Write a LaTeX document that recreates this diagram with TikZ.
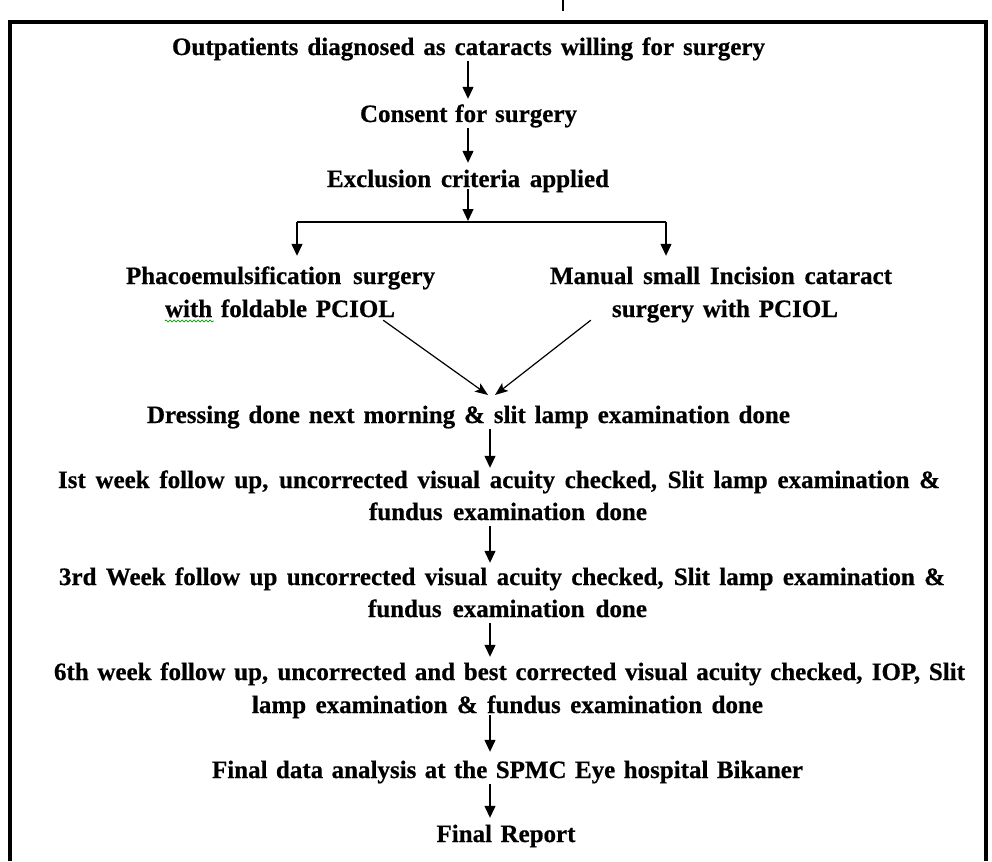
\documentclass[tikz,border=0pt]{standalone}
\usepackage{fontspec}
\setmainfont{Liberation Serif}[BoldFeatures={FakeBold=0.6}]
\usetikzlibrary{arrows.meta,decorations.pathmorphing}
\newcommand\fitw[2]{\makebox[#1pt][s]{#2}}
\begin{document}
\begin{tikzpicture}[x=1pt,y=-1pt,
  txt/.style={font=\fontsize{25}{30}\selectfont\bfseries, inner sep=0pt, text height=17pt, text depth=6pt, anchor=base},
  arr/.style={line width=1.3pt, -{Triangle[length=12pt,width=11pt]}},
  arrd/.style={line width=1.2pt, -{Stealth[length=13pt,width=10pt,inset=3pt]}},
  ln/.style={line width=1.3pt},
  frame/.style={line width=3.5pt}]
\useasboundingbox (0,0) rectangle (992,861);
% frame
\draw[frame] (10,861) -- (10,22) -- (986,22) -- (986,861);
\draw[line width=1.5pt] (563,0) -- (563,11);
% nodes
\node[txt] (l1) at (468.5,55) {\fitw{593}{Outpatients diagnosed as cataracts willing for surgery}};
\node[txt] (l2) at (468.5,122) {\fitw{217}{Consent for surgery}};
\node[txt] (l3) at (468,187) {\fitw{282}{Exclusion criteria applied}};
\node[txt] (p1) at (280.5,284) {\fitw{309}{Phacoemulsification surgery}};
\node[txt] (p2) at (280,317) {\fitw{230}{with foldable PCIOL}};
\node[txt] (m1) at (721,284) {\fitw{342}{Manual small Incision cataract}};
\node[txt] (m2) at (725,317) {\fitw{226}{surgery with PCIOL}};
\node[txt] (d) at (468.5,423) {\fitw{643}{Dressing done next morning \& slit lamp examination done}};
\node[txt] (w1a) at (499,488) {\fitw{882}{Ist week follow up, uncorrected visual acuity checked, Slit lamp examination \&}};
\node[txt] (w1b) at (508,520) {\fitw{278}{fundus examination done}};
\node[txt] (w3a) at (502,585) {\fitw{886}{3rd Week follow up uncorrected visual acuity checked, Slit lamp examination \&}};
\node[txt] (w3b) at (507.5,617) {\fitw{279}{fundus examination done}};
\node[txt] (w6a) at (509.5,680) {\fitw{911}{6th week follow up, uncorrected and best corrected visual acuity checked, IOP, Slit}};
\node[txt] (w6b) at (507.5,713) {\fitw{511}{lamp examination \& fundus examination done}};
\node[txt] (fd) at (507.5,778) {\fitw{591}{Final data analysis at the SPMC Eye hospital Bikaner}};
\node[txt] (fr) at (506,842) {\fitw{139}{Final Report}};
% spell-check squiggle
\draw[green!60!black, line width=0.7pt, decorate, decoration={snake,amplitude=1pt,segment length=4pt}] ([yshift=-4pt]p2.base west) -- ++(49,0);
% connectors
\coordinate (ax) at (468,0);
\coordinate (bx) at (490,0);
\coordinate (br) at (468,221);
\coordinate (bl) at (297,222);
\coordinate (brr) at (666,222);
\coordinate (tl) at (488,395);
\coordinate (tr) at (495,395);
\draw[arr, shorten >=6pt] (l1.south -| ax) -- (l2.north -| ax);
\draw[arr, shorten >=7pt] (l2.south -| ax) -- (l3.north -| ax);
\draw[arr, shorten <=-4pt] (l3.south -| ax) -- (br);
\draw[ln] (bl) -- (brr);
\draw[arr, shorten >=11pt] (bl) -- (p1.north -| bl);
\draw[arr, shorten >=11pt] (brr) -- (m1.north -| brr);
\draw[arrd] ([shift={(-12pt,3pt)}]p2.south east) -- (tl);
\draw[arrd] ([shift={(-21pt,3pt)}]m2.south west) -- (tr);
\draw[arr, shorten >=3pt] (d.south -| bx) -- (w1a.north -| bx);
\draw[arr, shorten >=5pt] (w1b.south -| bx) -- (w3a.north -| bx);
\draw[arr, shorten >=6pt] (w3b.south -| bx) -- (w6a.north -| bx);
\draw[arr, shorten >=9pt, shorten <=-4pt] (w6b.south -| bx) -- (fd.north -| bx);
\draw[arr, shorten >=7pt] (fd.south -| bx) -- (fr.north -| bx);
\end{tikzpicture}
\end{document}
